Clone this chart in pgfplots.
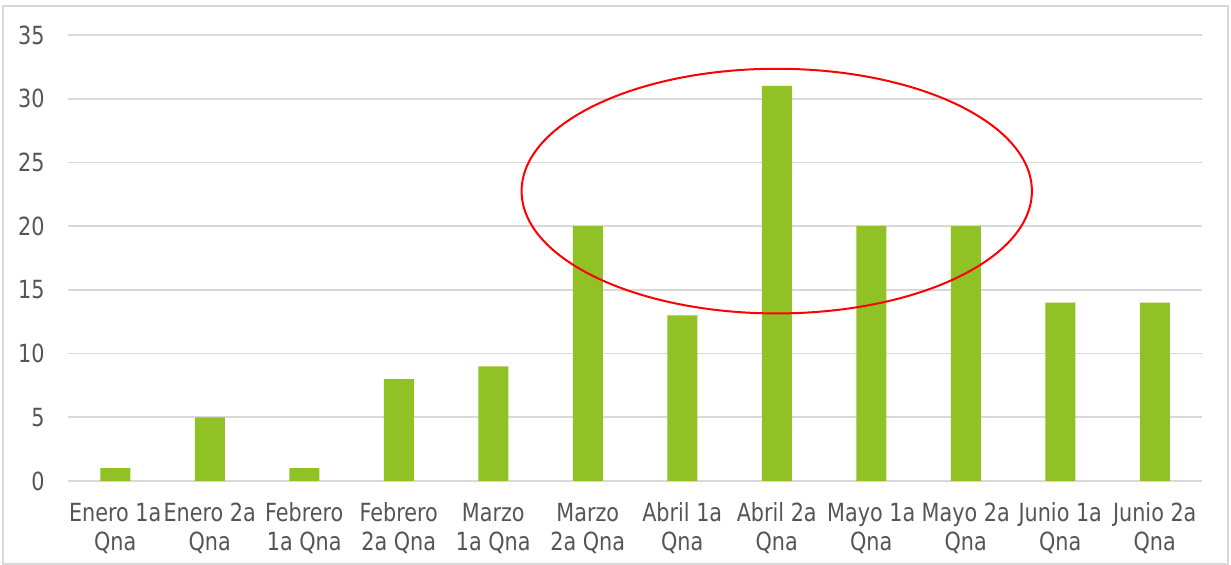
\documentclass[border=0pt]{standalone}
\usepackage{fontspec}
\setmainfont{DejaVu Sans}[FakeStretch=0.83]
\usepackage{pgfplots}
\pgfplotsset{compat=1.18}
\definecolor{barg}{HTML}{90C226}
\definecolor{txt}{HTML}{555555}
\definecolor{grd}{HTML}{D9D9D9}

\begin{document}
\begin{tikzpicture}
% 1 px of the reference = 0.5pt
\useasboundingbox (0,0) rectangle (615.5pt,282.5pt);
\draw[grd, line width=0.8pt] (1.5pt,0.5pt) rectangle (614pt,279.5pt);
\begin{axis}[
  at={(34pt,42pt)}, anchor=south west,
  scale only axis,
  width=567pt, height=223pt,
  ybar, bar width=15pt,
  xmin=-0.5, xmax=11.5,
  ymin=0, ymax=35,
  ytick={0,5,...,35},
  xtick={0,...,11},
  xticklabels={Enero 1a\\Qna, Enero 2a\\Qna, Febrero\\1a Qna, Febrero\\2a Qna,
    Marzo\\1a Qna, Marzo\\2a Qna, Abril 1a\\Qna, Abril 2a\\Qna,
    Mayo 1a\\Qna, Mayo 2a\\Qna, Junio 1a\\Qna, Junio 2a\\Qna},
  axis line style={draw=none},
  major tick style={draw=none},
  ymajorgrids,
  major grid style={grd, line width=0.9pt},
  /pgf/number format/assume math mode=true,
  tick label style={font=\fontsize{12.5}{14.5}\selectfont, text=txt, inner sep=0pt},
  yticklabel style={anchor=east, xshift=-11.5pt},
  xticklabel style={align=center, anchor=north, yshift=-6.5pt},
]
\addplot[fill=barg, draw=none] coordinates {
  (0,1) (1,5) (2,1) (3,8) (4,9) (5,20) (6,13) (7,31) (8,20) (9,20) (10,14) (11,14)
};
\draw[red, line width=1pt] (axis cs:7,22.75) ellipse [x radius=2.70, y radius=9.6];
\end{axis}
\end{tikzpicture}
\end{document}
